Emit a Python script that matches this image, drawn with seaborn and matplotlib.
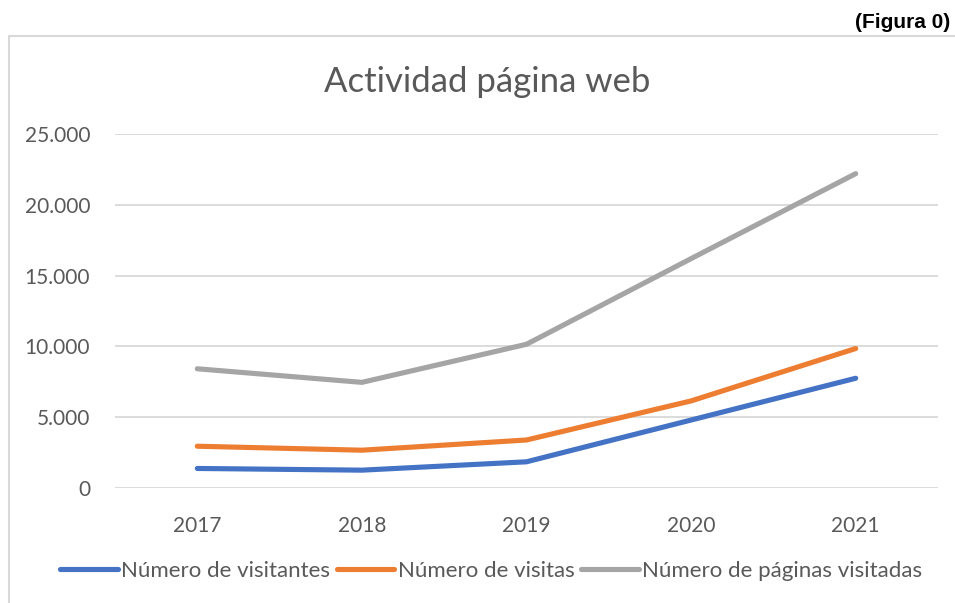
import pandas as pd
import numpy as np
import matplotlib.pyplot as plt
import seaborn as sns
from matplotlib.ticker import FuncFormatter
from matplotlib.lines import Line2D


# data
years = ["2017", "2018", "2019", "2020", "2021"]
visitantes = [1380, 1260, 1850, 4800, 7750]
visitas = [2950, 2670, 3390, 6150, 9850]
paginas = [8420, 7460, 10150, 16200, 22200]
series_names = ["Número de visitantes", "Número de visitas", "Número de páginas visitadas"]
colors = ["#4472C4", "#ED7D31", "#A5A5A5"]

df = pd.DataFrame({
    "Año": years * 3,
    "Valor": visitantes + visitas + paginas,
    "Serie": [series_names[0]] * 5 + [series_names[1]] * 5 + [series_names[2]] * 5,
})

sns.set_style("white")
plt.rcParams['font.family'] = ['Lato', 'DejaVu Sans']
txt = "#595959"
lw = 3.7

fig = plt.figure(figsize=(9.55, 6.03), dpi=100)
ax = fig.add_axes([115 / 955, 1 - 488 / 603, 823 / 955, 354 / 603])

sns.lineplot(data=df, x="Año", y="Valor", hue="Serie", palette=colors,
             sort=False, linewidth=lw, ax=ax, legend=False)
for ln in ax.get_lines():
    ln.set_solid_capstyle("round")
    ln.set_solid_joinstyle("round")

ax.set_xlim(-0.5, 4.5)
ax.set_ylim(0, 25000)
ax.set_yticks(np.arange(0, 25001, 5000))
ax.yaxis.set_major_formatter(FuncFormatter(lambda v, p: f"{v:,.0f}".replace(",", ".")))
ax.grid(axis="y", color="#D9D9D9", linewidth=1.3)
ax.set_axisbelow(True)
for s in ax.spines.values():
    s.set_visible(False)
ax.tick_params(axis="both", length=0, labelsize=15, labelcolor=txt)
ax.tick_params(axis="y", pad=18)
ax.tick_params(axis="x", pad=20)
ax.set_xlabel("")
ax.set_ylabel("")

fig.text(487 / 955, 1 - 82 / 603, "Actividad página web", ha="center", va="center",
         fontsize=25, color=txt)
fig.text(950 / 955, 1 - 22 / 603, "(Figura 0)", ha="right", va="center",
         fontsize=15, fontweight="bold", family="Liberation Sans", color="black")

# chart frame (top and left edges visible)
fig.add_artist(Line2D([9 / 955, 1], [1 - 36 / 603, 1 - 36 / 603], color="#D9D9D9", linewidth=1.5))
fig.add_artist(Line2D([9 / 955, 9 / 955], [0, 1 - 36 / 603], color="#D9D9D9", linewidth=1.5))

handles = [Line2D([], [], color=c, linewidth=lw, solid_capstyle="round") for c in colors]
fig.legend(handles, series_names, loc="center", bbox_to_anchor=(491 / 955, 1 - 571 / 603),
           ncol=3, frameon=False, fontsize=16, labelcolor=txt, handlelength=2.6,
           handletextpad=0.15, columnspacing=0.3)

fig.savefig("out.png", dpi=100)
